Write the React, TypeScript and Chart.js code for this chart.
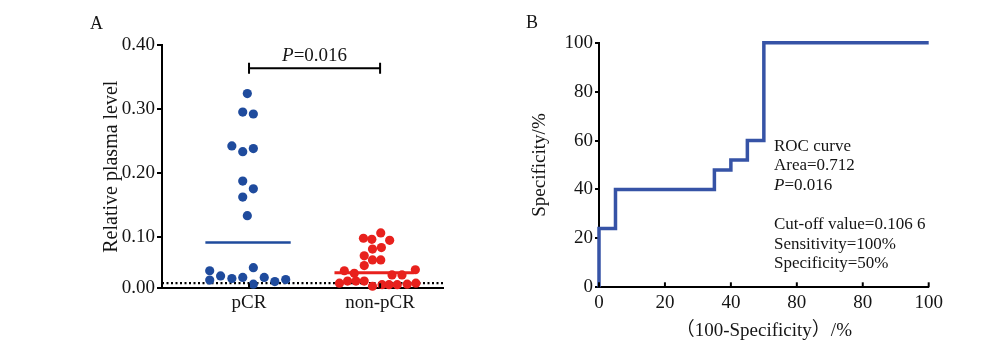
import React, { useEffect, useRef } from 'react';
import { Chart, registerables, LinearScale } from 'chart.js';

Chart.register(...registerables);

// ---------- Panel A data ----------
const CATEGORIES = ['pCR', 'non-pCR'];
const PCR_VALUES = [
  0.324, 0.295, 0.292, 0.242, 0.233, 0.238, 0.187, 0.175, 0.162, 0.133,
  0.034, 0.016, 0.024, 0.019, 0.021, 0.040, 0.008, 0.021, 0.013, 0.017,
];
const PCR_JITTER = [
  -0.013, -0.048, 0.033, -0.131, -0.048, 0.033, -0.048, 0.033, -0.048, -0.013,
  -0.3, -0.3, -0.217, -0.131, -0.048, 0.033, 0.033, 0.116, 0.197, 0.28,
];
const NONPCR_VALUES = [
  0.106, 0.097, 0.095, 0.093,
  0.079, 0.076,
  0.063, 0.055, 0.055,
  0.044,
  0.034, 0.029, 0.026, 0.026, 0.036,
  0.010, 0.014, 0.014, 0.014, 0.004, 0.007, 0.007, 0.007, 0.008, 0.010,
];
const NONPCR_JITTER = [
  0.005, -0.127, -0.063, 0.073,
  0.01, -0.058,
  -0.121, -0.058, 0.005,
  -0.121,
  -0.273, -0.197, 0.091, 0.167, 0.269,
  -0.31, -0.248, -0.184, -0.121, -0.058, 0.015, 0.068, 0.131, 0.207, 0.273,
];
const MEDIANS = [0.089, 0.03];
const MEDIAN_SPANS = [[-0.333, 0.318], [-0.348, 0.258]];
const DETECTION_LIMIT = 0.01;
const BRACKET_LEVEL = 0.3635;
const P_VALUE = '=0.016';
const Y_TICKS_A = [0, 0.1, 0.2, 0.3, 0.4];
const Y_TICK_LABELS_A = ['0.00', '0.10', '0.20', '0.30', '0.40'];
const X_MIN_A = 0.336;
const X_MAX_A = 2.48;

// ---------- Panel B data ----------
const ROC_FPR = [0, 0, 5, 35, 40, 45, 50, 100];
const ROC_SENS = [0, 24, 40, 48, 52, 60, 100, 100];
const X_TICKS_B = [0, 20, 40, 60, 80, 100];
const X_TICK_LABELS_B = ['0', '20', '40', '80', '80', '100'];
const Y_TICKS_B = [0, 20, 40, 60, 80, 100];
const ROC_NOTES = ['ROC curve', 'Area=0.712', 'P=0.016', '', 'Cut-off value=0.106 6', 'Sensitivity=100%', 'Specificity=50%'];

const SERIF = '"Liberation Serif", "Times New Roman", serif';
const SERIF_CJK = '"Liberation Serif", "Noto Sans CJK SC", serif';
const BLUE = '#1f4b9d';
const RED = '#e8211d';
const ROC_BLUE = '#3653a6';
const TEXT = '#151515';

// Broken (piecewise) linear axis: 0–0.10 segment is compressed as in the original figure
const BREAK_VALUE = 0.1;
const BREAK_FRACTION = 0.212;
class BrokenLinearScale extends LinearScale {
  static id = 'brokenLinear';
  getPixelForValue(value: any) {
    if (value === null || value === undefined || isNaN(value)) return NaN;
    const min = (this as any).min;
    const max = (this as any).max;
    let d: number;
    if (value <= BREAK_VALUE) d = ((value - min) / (BREAK_VALUE - min)) * BREAK_FRACTION;
    else d = BREAK_FRACTION + ((value - BREAK_VALUE) / (max - BREAK_VALUE)) * (1 - BREAK_FRACTION);
    return (this as any).getPixelForDecimal(d);
  }
  getValueForPixel(pixel: number) {
    const d = (this as any).getDecimalForPixel(pixel);
    const min = (this as any).min;
    const max = (this as any).max;
    if (d <= BREAK_FRACTION) return min + (d / BREAK_FRACTION) * (BREAK_VALUE - min);
    return BREAK_VALUE + ((d - BREAK_FRACTION) / (1 - BREAK_FRACTION)) * (max - BREAK_VALUE);
  }
}
Chart.register(BrokenLinearScale as any);

const innerXTicks = {
  id: 'innerXTicks',
  afterDatasetsDraw(chart: any) {
    const { ctx, chartArea } = chart;
    const x = chart.scales.x;
    ctx.save();
    ctx.strokeStyle = '#000';
    ctx.lineWidth = 2;
    x.ticks.forEach((t: any) => {
      const px = x.getPixelForValue(t.value);
      ctx.beginPath();
      ctx.moveTo(px, chartArea.bottom);
      ctx.lineTo(px, chartArea.bottom - 5);
      ctx.stroke();
    });
    ctx.restore();
  },
};

function drawItalicPLine(ctx: any, text: string, x: number, y: number, size: number, align: 'left' | 'center') {
  const hasP = text.startsWith('P=');
  const rest = hasP ? text.slice(1) : text;
  ctx.font = `italic ${size}px ${SERIF}`;
  const wP = hasP ? ctx.measureText('P').width : 0;
  ctx.font = `${size}px ${SERIF}`;
  const wR = ctx.measureText(rest).width;
  let sx = align === 'center' ? x - (wP + wR) / 2 : x;
  ctx.textAlign = 'left';
  ctx.textBaseline = 'alphabetic';
  if (hasP) {
    ctx.font = `italic ${size}px ${SERIF}`;
    ctx.fillText('P', sx, y);
    sx += wP;
  }
  ctx.font = `${size}px ${SERIF}`;
  ctx.fillText(rest, sx, y);
}

const panelADecor = {
  id: 'panelADecor',
  afterDraw(chart: any) {
    const { ctx } = chart;
    const x = chart.scales.x;
    const y = chart.scales.y;
    const x1 = x.getPixelForValue(1);
    const x2 = x.getPixelForValue(2);
    const by = y.getPixelForValue(BRACKET_LEVEL);
    ctx.save();
    ctx.strokeStyle = '#000';
    ctx.lineWidth = 2;
    ctx.beginPath();
    ctx.moveTo(x1, by);
    ctx.lineTo(x2, by);
    ctx.moveTo(x1, by - 5.5);
    ctx.lineTo(x1, by + 5.5);
    ctx.moveTo(x2, by - 5.5);
    ctx.lineTo(x2, by + 5.5);
    ctx.stroke();
    ctx.fillStyle = TEXT;
    drawItalicPLine(ctx, 'P' + P_VALUE, (x1 + x2) / 2, by - 7.3, 19, 'center');
    ctx.font = `18px ${SERIF}`;
    ctx.textAlign = 'left';
    ctx.textBaseline = 'alphabetic';
    ctx.fillText('A', 90, 28.5);
    ctx.restore();
  },
};

const panelBDecor = {
  id: 'panelBDecor',
  afterDraw(chart: any) {
    const { ctx } = chart;
    ctx.save();
    ctx.fillStyle = TEXT;
    ROC_NOTES.forEach((line, i) => {
      if (!line) return;
      drawItalicPLine(ctx, line, 294, 150.5 + i * 19.6, 17, 'left');
    });
    ctx.font = `18px ${SERIF}`;
    ctx.textAlign = 'left';
    ctx.textBaseline = 'alphabetic';
    ctx.fillText('B', 46, 28);
    ctx.restore();
  },
};

function PanelA() {
  const ref = useRef<HTMLCanvasElement>(null);
  useEffect(() => {
    const pcr = PCR_VALUES.map((v, i) => ({ x: 1 + PCR_JITTER[i], y: v }));
    const non = NONPCR_VALUES.map((v, i) => ({ x: 2 + NONPCR_JITTER[i], y: v }));
    const medLines = MEDIANS.map((m, i) => [
      { x: i + 1 + MEDIAN_SPANS[i][0], y: m },
      { x: i + 1 + MEDIAN_SPANS[i][1], y: m },
    ]);
    const chart = new Chart(ref.current as HTMLCanvasElement, {
      type: 'scatter',
      data: {
        datasets: [
          { data: medLines[0], showLine: true, borderColor: BLUE, borderWidth: 2.5, pointRadius: 0, clip: false } as any,
          { data: medLines[1], showLine: true, borderColor: RED, borderWidth: 3, pointRadius: 0, clip: false } as any,
          { data: pcr, backgroundColor: BLUE, borderWidth: 0, pointRadius: 4.6, clip: false } as any,
          { data: non, backgroundColor: RED, borderWidth: 0, pointRadius: 4.6, clip: false } as any,
          {
            data: [{ x: X_MIN_A, y: DETECTION_LIMIT }, { x: X_MAX_A, y: DETECTION_LIMIT }],
            showLine: true, borderColor: '#000', borderWidth: 2.2, borderDash: [2, 2.5], pointRadius: 0, clip: false,
          } as any,
        ],
      },
      options: {
        animation: false,
        responsive: false,
        events: [],
        layout: { padding: { left: 100, top: 45, right: 27, bottom: 26.7 } },
        plugins: { legend: { display: false }, tooltip: { enabled: false } },
        scales: {
          x: {
            type: 'linear',
            min: X_MIN_A,
            max: X_MAX_A,
            afterBuildTicks: (s: any) => { s.ticks = CATEGORIES.map((_, i) => ({ value: i + 1 })); },
            afterFit: (s: any) => { s.height = 40; },
            ticks: {
              autoSkip: false,
              padding: 3,
              color: TEXT,
              font: { family: SERIF, size: 19 },
              callback: (_v: any, i: number) => CATEGORIES[i],
            },
            grid: { drawOnChartArea: false, drawTicks: false },
            border: { display: true, color: '#000', width: 2 },
          },
          y: {
            type: 'brokenLinear' as any,
            min: 0,
            max: 0.4,
            afterBuildTicks: (s: any) => { s.ticks = Y_TICKS_A.map((v) => ({ value: v })); },
            afterFit: (s: any) => { s.width = 62; },
            ticks: {
              autoSkip: false,
              padding: 2,
              color: TEXT,
              font: { family: SERIF, size: 19 },
              callback: (_v: any, i: number) => Y_TICK_LABELS_A[i],
            },
            grid: { drawOnChartArea: false, drawTicks: true, tickLength: 5, color: '#000', lineWidth: 2 },
            border: { display: true, color: '#000', width: 2 },
            title: {
              display: true,
              text: 'Relative plasma level',
              color: TEXT,
              font: { family: SERIF, size: 20 },
              padding: { top: 0, bottom: 0 },
            },
          } as any,
        },
      },
      plugins: [innerXTicks, panelADecor],
    } as any);
    return () => chart.destroy();
  }, []);
  return <canvas ref={ref} width={470} height={355} style={{ position: 'absolute', left: 0, top: 0 }} />;
}

function PanelB() {
  const ref = useRef<HTMLCanvasElement>(null);
  useEffect(() => {
    const roc = ROC_FPR.map((x, i) => ({ x, y: ROC_SENS[i] }));
    const chart = new Chart(ref.current as HTMLCanvasElement, {
      type: 'line',
      data: {
        datasets: [
          {
            data: roc,
            borderColor: ROC_BLUE,
            borderWidth: 3.5,
            pointRadius: 0,
            stepped: 'before',
            fill: false,
            clip: false,
          } as any,
        ],
      },
      options: {
        animation: false,
        responsive: false,
        events: [],
        layout: { padding: { left: 48.6, top: 42.7, right: 71.3, bottom: 12.6 } },
        plugins: { legend: { display: false }, tooltip: { enabled: false } },
        scales: {
          x: {
            type: 'linear',
            min: 0,
            max: 100,
            afterBuildTicks: (s: any) => { s.ticks = X_TICKS_B.map((v) => ({ value: v })); },
            afterFit: (s: any) => { s.height = 55.1; },
            ticks: {
              autoSkip: false,
              maxRotation: 0,
              padding: 4,
              color: TEXT,
              font: { family: SERIF, size: 19 },
              callback: (_v: any, i: number) => X_TICK_LABELS_B[i],
            },
            grid: { drawOnChartArea: false, drawTicks: false },
            border: { display: true, color: '#000', width: 2 },
            title: {
              display: true,
              text: '（100-Specificity）/%',
              color: TEXT,
              font: { family: SERIF_CJK, size: 19 },
              padding: { top: 0, bottom: 0 },
            },
          },
          y: {
            type: 'linear',
            min: 0,
            max: 100,
            afterBuildTicks: (s: any) => { s.ticks = Y_TICKS_B.map((v) => ({ value: v })); },
            afterFit: (s: any) => { s.width = 70.4; },
            ticks: {
              autoSkip: false,
              padding: 2,
              color: TEXT,
              font: { family: SERIF, size: 19 },
            },
            grid: { drawOnChartArea: false, drawTicks: true, tickLength: 4, color: '#000', lineWidth: 2 },
            border: { display: true, color: '#000', width: 2 },
            title: {
              display: true,
              text: 'Specificity/%',
              color: TEXT,
              font: { family: SERIF, size: 19 },
              padding: { top: 0, bottom: 0 },
            },
          },
        },
      },
      plugins: [innerXTicks, panelBDecor],
    } as any);
    return () => chart.destroy();
  }, []);
  return <canvas ref={ref} width={520} height={355} style={{ position: 'absolute', left: 480, top: 0 }} />;
}

export default function App() {
  return (
    <div style={{ position: 'absolute', left: 0, top: 0, width: 1000, height: 355, background: '#fff', overflow: 'hidden' }}>
      <PanelA />
      <PanelB />
    </div>
  );
}
